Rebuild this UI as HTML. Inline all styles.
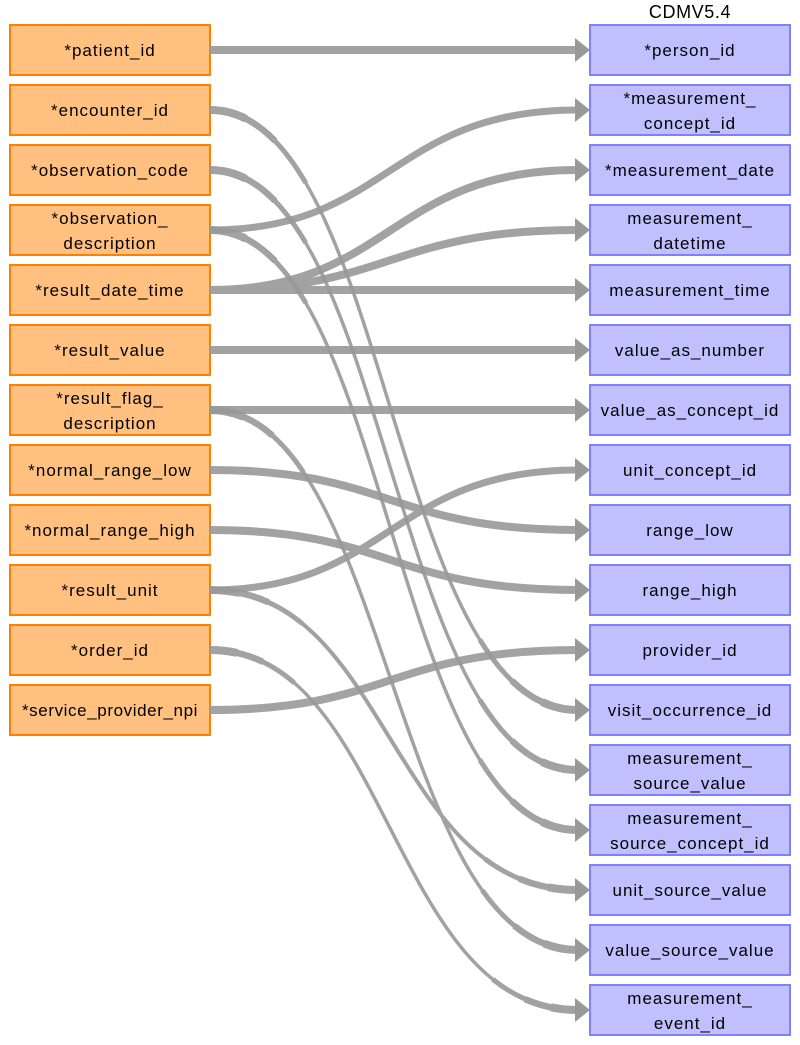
<!DOCTYPE html>
<html><head><style>
body{margin:0;background:#fff;width:800px;height:1045px;overflow:hidden;font-family:"Liberation Sans",sans-serif}
svg{position:absolute;left:0;top:0}
.t path{fill:none}
</style></head><body>
<svg width="800" height="1045" xmlns="http://www.w3.org/2000/svg" font-family="Liberation Sans, sans-serif" font-size="17">
<text x="690" y="18" text-anchor="middle" font-size="18" letter-spacing="0.6">CDMV5.4</text>
<g fill="#ffc080" stroke="#ff8000" stroke-width="2">
<rect x="10" y="25" width="200" height="50"/><rect x="10" y="85" width="200" height="50"/>
<rect x="10" y="145" width="200" height="50"/><rect x="10" y="205" width="200" height="50"/>
<rect x="10" y="265" width="200" height="50"/><rect x="10" y="325" width="200" height="50"/>
<rect x="10" y="385" width="200" height="50"/><rect x="10" y="445" width="200" height="50"/>
<rect x="10" y="505" width="200" height="50"/><rect x="10" y="565" width="200" height="50"/>
<rect x="10" y="625" width="200" height="50"/><rect x="10" y="685" width="200" height="50"/>
</g>
<g fill="#c0c0ff" stroke="#8080ff" stroke-width="2">
<rect x="590" y="25" width="200" height="50"/><rect x="590" y="85" width="200" height="50"/>
<rect x="590" y="145" width="200" height="50"/><rect x="590" y="205" width="200" height="50"/>
<rect x="590" y="265" width="200" height="50"/><rect x="590" y="325" width="200" height="50"/>
<rect x="590" y="385" width="200" height="50"/><rect x="590" y="445" width="200" height="50"/>
<rect x="590" y="505" width="200" height="50"/><rect x="590" y="565" width="200" height="50"/>
<rect x="590" y="625" width="200" height="50"/><rect x="590" y="685" width="200" height="50"/>
<rect x="590" y="745" width="200" height="50"/><rect x="590" y="805" width="200" height="50"/>
<rect x="590" y="865" width="200" height="50"/><rect x="590" y="925" width="200" height="50"/>
<rect x="590" y="985" width="200" height="50"/>
</g>
<g fill="none" stroke="#999" stroke-width="8" opacity="0.9">
<path d="M210 50 L578 50"/>
<path d="M210 290 C390 290 390 170 578 170"/>
<path d="M210 290 C390 290 390 230 578 230"/>
<path d="M210 290 L578 290"/>
<path d="M210 350 L578 350"/>
<path d="M210 410 L578 410"/>
<path d="M210 470 C390 470 390 530 578 530"/>
<path d="M210 530 C390 530 390 590 578 590"/>
<path d="M210 590 C390 590 390 470 578 470" stroke-width="7"/>
<path d="M210 710 C390 710 390 650 578 650"/>
<path d="M210 230 C390 230 390 110 578 110" stroke-width="7"/>
</g>
<g fill="none" stroke="#999" opacity="0.9">
<g id="g1"><path d="M210 110 C390 110 390 710 578 710" stroke-width="3.5"/>
<path d="M210 110 C390 110 390 710 578 710" pathLength="100" stroke-width="8" stroke-dasharray="5 90 5"/>
<path d="M210 110 C390 110 390 710 578 710" pathLength="100" stroke-width="6.5" stroke-dasharray="10 80 10"/>
<path d="M210 110 C390 110 390 710 578 710" pathLength="100" stroke-width="5" stroke-dasharray="17 66 17"/></g>
<g><path d="M210 170 C390 170 390 770 578 770" stroke-width="3.5"/>
<path d="M210 170 C390 170 390 770 578 770" pathLength="100" stroke-width="8" stroke-dasharray="5 90 5"/>
<path d="M210 170 C390 170 390 770 578 770" pathLength="100" stroke-width="6.5" stroke-dasharray="10 80 10"/>
<path d="M210 170 C390 170 390 770 578 770" pathLength="100" stroke-width="5" stroke-dasharray="17 66 17"/></g>
<g><path d="M210 230 C390 230 390 830 578 830" stroke-width="3.5"/>
<path d="M210 230 C390 230 390 830 578 830" pathLength="100" stroke-width="8" stroke-dasharray="5 90 5"/>
<path d="M210 230 C390 230 390 830 578 830" pathLength="100" stroke-width="6.5" stroke-dasharray="10 80 10"/>
<path d="M210 230 C390 230 390 830 578 830" pathLength="100" stroke-width="5" stroke-dasharray="17 66 17"/></g>
<g><path d="M210 410 C390 410 390 950 578 950" stroke-width="3.5"/>
<path d="M210 410 C390 410 390 950 578 950" pathLength="100" stroke-width="8" stroke-dasharray="5 90 5"/>
<path d="M210 410 C390 410 390 950 578 950" pathLength="100" stroke-width="6.5" stroke-dasharray="10 80 10"/>
<path d="M210 410 C390 410 390 950 578 950" pathLength="100" stroke-width="5" stroke-dasharray="17 66 17"/></g>
<g><path d="M210 590 C390 590 390 890 578 890" stroke-width="4"/>
<path d="M210 590 C390 590 390 890 578 890" pathLength="100" stroke-width="8" stroke-dasharray="6 88 6"/>
<path d="M210 590 C390 590 390 890 578 890" pathLength="100" stroke-width="6.5" stroke-dasharray="12 76 12"/>
<path d="M210 590 C390 590 390 890 578 890" pathLength="100" stroke-width="5" stroke-dasharray="20 60 20"/></g>
<g><path d="M210 650 C390 650 390 1010 578 1010" stroke-width="3.5"/>
<path d="M210 650 C390 650 390 1010 578 1010" pathLength="100" stroke-width="8" stroke-dasharray="5 90 5"/>
<path d="M210 650 C390 650 390 1010 578 1010" pathLength="100" stroke-width="6.5" stroke-dasharray="10 80 10"/>
<path d="M210 650 C390 650 390 1010 578 1010" pathLength="100" stroke-width="5" stroke-dasharray="17 66 17"/></g>
</g>
<g fill="#999">
<polygon points="575,38 590,50 575,62"/><polygon points="575,98 590,110 575,122"/>
<polygon points="575,158 590,170 575,182"/><polygon points="575,218 590,230 575,242"/>
<polygon points="575,278 590,290 575,302"/><polygon points="575,338 590,350 575,362"/>
<polygon points="575,398 590,410 575,422"/><polygon points="575,458 590,470 575,482"/>
<polygon points="575,518 590,530 575,542"/><polygon points="575,578 590,590 575,602"/>
<polygon points="575,638 590,650 575,662"/><polygon points="575,698 590,710 575,722"/>
<polygon points="575,758 590,770 575,782"/><polygon points="575,818 590,830 575,842"/>
<polygon points="575,878 590,890 575,902"/><polygon points="575,938 590,950 575,962"/>
<polygon points="575,998 590,1010 575,1022"/>
</g>
<g text-anchor="middle" fill="#000" letter-spacing="1">
<text x="110" y="56">*patient_id</text>
<text x="110" y="116">*encounter_id</text>
<text x="110" y="176">*observation_code</text>
<text x="110" y="224">*observation_</text><text x="110" y="249">description</text>
<text x="110" y="296">*result_date_time</text>
<text x="110" y="356">*result_value</text>
<text x="110" y="404">*result_flag_</text><text x="110" y="429">description</text>
<text x="110" y="476">*normal_range_low</text>
<text x="110" y="536">*normal_range_high</text>
<text x="110" y="596">*result_unit</text>
<text x="110" y="656">*order_id</text>
<text x="110" y="716" letter-spacing="0.6">*service_provider_npi</text>
<text x="690" y="56">*person_id</text>
<text x="690" y="104">*measurement_</text><text x="690" y="129">concept_id</text>
<text x="690" y="176">*measurement_date</text>
<text x="690" y="224">measurement_</text><text x="690" y="249">datetime</text>
<text x="690" y="296">measurement_time</text>
<text x="690" y="356">value_as_number</text>
<text x="690" y="416">value_as_concept_id</text>
<text x="690" y="476">unit_concept_id</text>
<text x="690" y="536">range_low</text>
<text x="690" y="596">range_high</text>
<text x="690" y="656">provider_id</text>
<text x="690" y="716">visit_occurrence_id</text>
<text x="690" y="764">measurement_</text><text x="690" y="789">source_value</text>
<text x="690" y="824">measurement_</text><text x="690" y="849">source_concept_id</text>
<text x="690" y="896">unit_source_value</text>
<text x="690" y="956">value_source_value</text>
<text x="690" y="1004">measurement_</text><text x="690" y="1029">event_id</text>
</g>
</svg>
</body></html>
